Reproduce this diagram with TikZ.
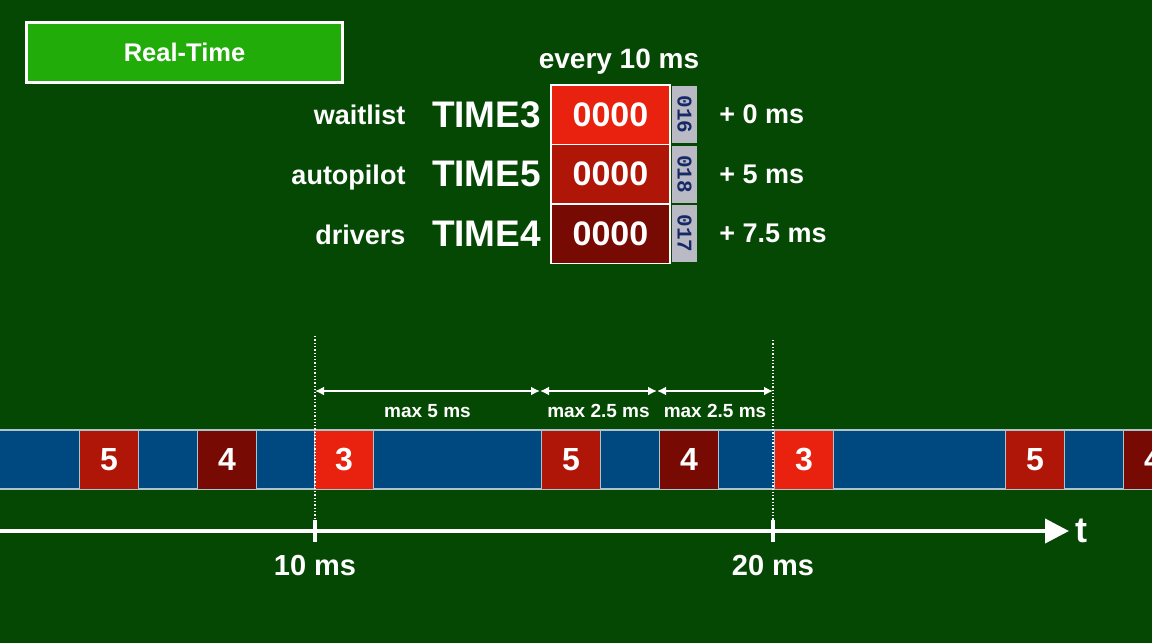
\documentclass[tikz,border=0pt]{standalone}
\usepackage{fontspec}
\setmainfont{Liberation Sans}
\setmonofont{Liberation Mono}
\usetikzlibrary{arrows.meta,positioning}

\definecolor{bggreen}{RGB}{4,72,4}
\definecolor{rtgreen}{RGB}{34,172,10}
\definecolor{rthree}{RGB}{232,34,14}
\definecolor{rfive}{RGB}{176,22,8}
\definecolor{rfour}{RGB}{120,10,4}
\definecolor{barblue}{RGB}{0,72,128}
\definecolor{barline}{RGB}{175,195,205}
\definecolor{taggray}{RGB}{186,186,196}
\definecolor{tagblue}{RGB}{22,42,104}

\tikzset{
  every node/.style={text=white},
  rtbox/.style={draw=white, line width=3pt, fill=rtgreen, minimum width=316pt, minimum height=60pt,
    inner sep=0pt, font=\bfseries\fontsize{25.5}{27}\selectfont},
  lbl/.style={font=\bfseries\fontsize{27}{29}\selectfont},
  timer/.style={font=\bfseries\fontsize{37}{40}\selectfont},
  regbox/.style={draw=white, line width=1.5pt, minimum width=119pt, minimum height=59.5pt,
    inner sep=0pt, font=\bfseries\fontsize{34}{36}\selectfont},
  tagbox/.style={fill=taggray, rotate=-90, minimum width=57pt, minimum height=25pt, inner sep=0pt,
    text=tagblue, font=\ttfamily\bfseries\fontsize{21}{22}\selectfont},
  task/.style={draw=barline, line width=1pt, minimum size=59pt, inner sep=0pt, anchor=west,
    font=\bfseries\fontsize{32}{34}\selectfont},
  span/.style={white, line width=2pt, {Latex[length=9pt,width=9pt]}-{Latex[length=9pt,width=9pt]}},
  spanlbl/.style={font=\bfseries\fontsize{19}{21}\selectfont},
  axis/.style={white, line width=4pt, -{Triangle[length=24pt,width=24pt]}},
  tick/.style={white, line width=4pt},
  guide/.style={white, dotted, line width=1.3pt}
}

\begin{document}
\begin{tikzpicture}[x=1pt,y=-1pt]
  % background and page size
  \fill[bggreen] (0,0) rectangle (1152,643);
  \useasboundingbox (0,0) rectangle (1152,643);
  \clip (0,0) rectangle (1152,643);

  \node[rtbox] (rt) at (184.5,52.5) {Real-Time};

  % timer registers
  \node[lbl, font=\bfseries\fontsize{28}{30}\selectfont, anchor=base] (every) at (619,68) {every 10 ms};
  \foreach \lab/\reg/\tag/\off/\col [count=\i] in
      {waitlist/TIME3/016/+ 0 ms/rthree, autopilot/TIME5/018/+ 5 ms/rfive, drivers/TIME4/017/+ 7.5 ms/rfour} {
    \pgfmathsetmacro\yc{114.5+59.5*(\i-1)}
    \node[regbox, fill=\col] (reg\i) at (610.5,\yc) {0000};
    \node[tagbox] (tag\i) at (684.5,\yc) {\tag};
    \node[timer, left=9pt of reg\i, inner sep=0pt] (time\i) {\reg};
    \node[lbl, anchor=base east] (who\i) at (409,124+60*\i-60) {\lab};
    \node[lbl, right=22pt of tag\i.north, anchor=west, inner sep=0pt] (off\i) {\off};
  }

  % time line of tasks
  \fill[barblue] (0,430) rectangle (1152,489);
  \draw[barline, line width=1.5pt] (0,430) -- (1152,430) (0,489) -- (1152,489);
  \foreach \x/\n/\c [count=\i] in
      {79/5/rfive, 197/4/rfour, 314/3/rthree, 541/5/rfive, 659/4/rfour, 774/3/rthree, 1005/5/rfive, 1123/4/rfour}
    \node[task, fill=\c] (job\i) at (\x,459.5) {\n};

  % period marks
  \coordinate (d1) at (315,336);
  \coordinate (d2) at (773,340);
  \coordinate (k1) at (315,531);
  \coordinate (k2) at (773,531);
  \draw[guide] (d1) -- (k1);
  \draw[guide] (d2) -- (k2);

  % deadlines
  \coordinate (m0) at (315,391);
  \coordinate (m1) at (540,391);
  \coordinate (m2) at (657,391);
  \coordinate (m3) at (773,391);
  \draw[span] (m0) -- (m1) node[spanlbl, midway, anchor=base, yshift=-26pt] {max 5 ms};
  \draw[span] (m1) -- (m2) node[spanlbl, midway, anchor=base, yshift=-26pt] {max 2.5 ms};
  \draw[span] (m2) -- (m3) node[spanlbl, midway, anchor=base, yshift=-26pt] {max 2.5 ms};

  % axis
  \coordinate (t0) at (0,531);
  \node[anchor=west, inner sep=0pt, font=\bfseries\fontsize{36}{38}\selectfont] (tlab) at (1075,531) {t};
  \draw[axis] (t0) -- ([xshift=-6pt]tlab.west |- t0);
  \draw[tick] ([yshift=-11pt]k1) -- ([yshift=11pt]k1);
  \draw[tick] ([yshift=-11pt]k2) -- ([yshift=11pt]k2);
  \node[lbl, font=\bfseries\fontsize{29}{31}\selectfont, anchor=base] (ten) at ([yshift=-44pt]k1) {10 ms};
  \node[lbl, font=\bfseries\fontsize{29}{31}\selectfont, anchor=base] (twenty) at ([yshift=-44pt]k2) {20 ms};
\end{tikzpicture}
\end{document}
